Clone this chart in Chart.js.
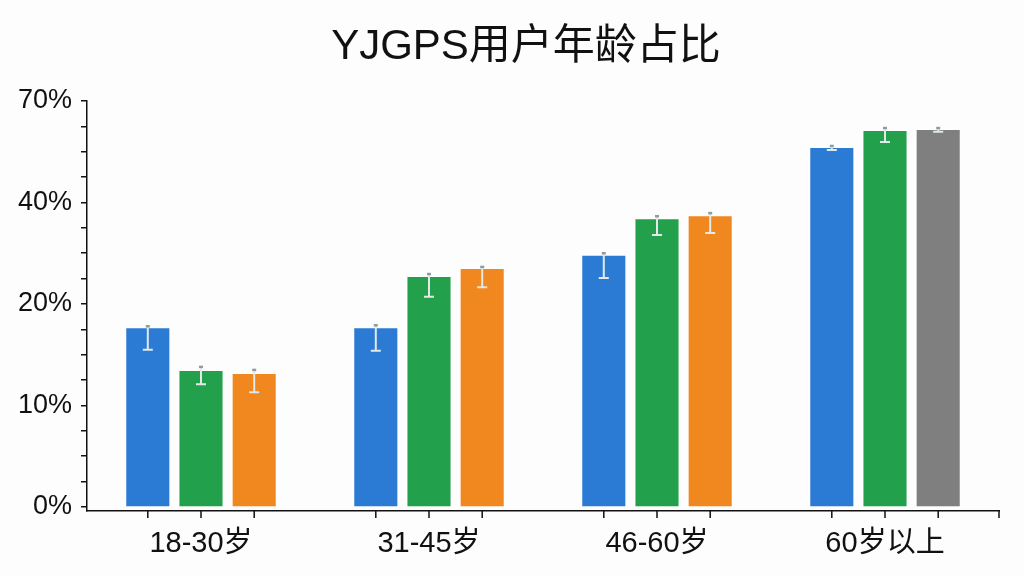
<!DOCTYPE html>
<html>
<head>
<meta charset="utf-8">
<script src="https://cdn.jsdelivr.net/npm/chart.js@4.4.1/dist/chart.umd.min.js"></script>
<style>
    html, body { margin: 0; padding: 0; background: #fdfdfd; }
    #wrap { width: 1024px; height: 576px; }
</style>
</head>
<body>
<div id="wrap"><canvas id="ageChart" width="1024" height="576"></canvas></div>
<script>
// categories and values (percent)
const chartTitle = 'YJGPS用户年龄占比';
const ageGroups = ['18-30岁', '31-45岁', '46-60岁', '60岁以上'];
const yTickValues = [0, 10, 20, 40, 70];
const yTickLabels = ['0%', '10%', '20%', '40%', '70%'];

const seriesBlue = [17.6, 17.6, 29.5, 56.1];
const seriesGreen = [13.4, 25.3, 36.7, 61.1];
const seriesOrange = [13.1, 26.9, 37.3, 61.4];

const errBlueLow = [15.5, 15.4, 25.1, 55.5];
const errBlueHigh = [17.8, 17.9, 30.0, 56.7];
const errGreenLow = [12.1, 21.4, 33.6, 57.9];
const errGreenHigh = [13.8, 25.9, 37.3, 62.0];
const errOrangeLow = [11.3, 23.3, 34.0, 60.9];
const errOrangeHigh = [13.5, 27.3, 37.9, 62.0];

const FONT = "'Liberation Sans', Arial, 'Noto Sans CJK SC', sans-serif";
const INK = '#111111';

// the y axis is spaced evenly per label, so map a percent onto label steps
function toAxis(v) {
    for (let i = 0; i < yTickValues.length - 1; i++) {
        const a = yTickValues[i], b = yTickValues[i + 1];
        if (v <= b || i === yTickValues.length - 2) {
            return i + (v - a) / (b - a);
        }
    }
    return 0;
}

const errorBars = {
    id: 'errorBars',
    afterDatasetsDraw(chart) {
        const ctx = chart.ctx;
        const y = chart.scales.y;
        ctx.save();
        chart.data.datasets.forEach((ds, di) => {
            const meta = chart.getDatasetMeta(di);
            meta.data.forEach((bar, i) => {
                const top = y.getPixelForValue(toAxis(ds.errHigh[i]));
                const low = y.getPixelForValue(toAxis(ds.errLow[i]));
                ctx.strokeStyle = '#e3e9e9';
                ctx.lineWidth = 2;
                ctx.beginPath();
                ctx.moveTo(bar.x, top);
                ctx.lineTo(bar.x, low);
                ctx.moveTo(bar.x - 5, low);
                ctx.lineTo(bar.x + 5, low);
                ctx.stroke();
                ctx.strokeStyle = '#8f9c9e';
                ctx.lineWidth = 2.5;
                ctx.beginPath();
                ctx.moveTo(bar.x - 2, top);
                ctx.lineTo(bar.x + 2, top);
                ctx.stroke();
            });
        });
        ctx.restore();
    },
    afterDraw(chart) {
        const ctx = chart.ctx;
        const area = chart.chartArea;
        ctx.save();
        // small tick marks under every bar and at the end of the x axis
        ctx.strokeStyle = INK;
        ctx.lineWidth = 1.5;
        ctx.beginPath();
        chart.data.datasets.forEach((ds, di) => {
            chart.getDatasetMeta(di).data.forEach(bar => {
                ctx.moveTo(bar.x, area.bottom);
                ctx.lineTo(bar.x, area.bottom + 7);
            });
        });
        ctx.moveTo(area.right, area.bottom);
        ctx.lineTo(area.right, area.bottom + 7);
        ctx.stroke();

        // title, centred a little right of the canvas middle as in the source
        ctx.fillStyle = INK;
        ctx.font = '42px ' + FONT;
        ctx.textAlign = 'center';
        ctx.textBaseline = 'middle';
        ctx.fillText(chartTitle, 526, 47);
        ctx.restore();
    }
};

new Chart(document.getElementById('ageChart'), {
    type: 'bar',
    data: {
        labels: ageGroups,
        datasets: [
            {
                data: seriesBlue.map(toAxis),
                errLow: errBlueLow, errHigh: errBlueHigh,
                backgroundColor: '#2b7bd5'
            },
            {
                data: seriesGreen.map(toAxis),
                errLow: errGreenLow, errHigh: errGreenHigh,
                backgroundColor: '#22a04b'
            },
            {
                data: seriesOrange.map(toAxis),
                errLow: errOrangeLow, errHigh: errOrangeHigh,
                backgroundColor: ['#f0871f', '#f0871f', '#f0871f', '#7f7f7f']
            }
        ]
    },
    options: {
        responsive: false,
        devicePixelRatio: 1,
        animation: false,
        categoryPercentage: 0.70,
        barPercentage: 0.81,
        layout: { padding: { left: 0, right: 25, top: 101, bottom: 0 } },
        plugins: {
            legend: { display: false },
            tooltip: { enabled: false },
            title: { display: false }
        },
        scales: {
            x: {
                grid: { display: true, drawOnChartArea: false, drawTicks: false },
                border: { display: true, color: INK, width: 1.5 },
                ticks: {
                    color: INK,
                    padding: 16,
                    font: { family: FONT, size: 29 }
                },
                afterFit(scale) { scale.height = 65; }
            },
            y: {
                min: -0.04,
                max: yTickLabels.length - 1,
                grid: { drawOnChartArea: false, drawTicks: true, tickLength: 6, color: INK, lineWidth: 1.5 },
                border: { display: true, color: INK, width: 1.5 },
                afterBuildTicks(scale) {
                    const ticks = [];
                    for (let i = 0; i <= (yTickLabels.length - 1) * 4; i++) {
                        ticks.push({ value: i / 4 });
                    }
                    scale.ticks = ticks;
                },
                ticks: {
                    color: INK,
                    padding: 9,
                    autoSkip: false,
                    font: { family: FONT, size: 27 },
                    callback: (value) => Number.isInteger(value) ? yTickLabels[value] : ''
                },
                afterFit(scale) { scale.width = 87; }
            }
        }
    },
    plugins: [errorBars]
});
</script>
</body>
</html>
